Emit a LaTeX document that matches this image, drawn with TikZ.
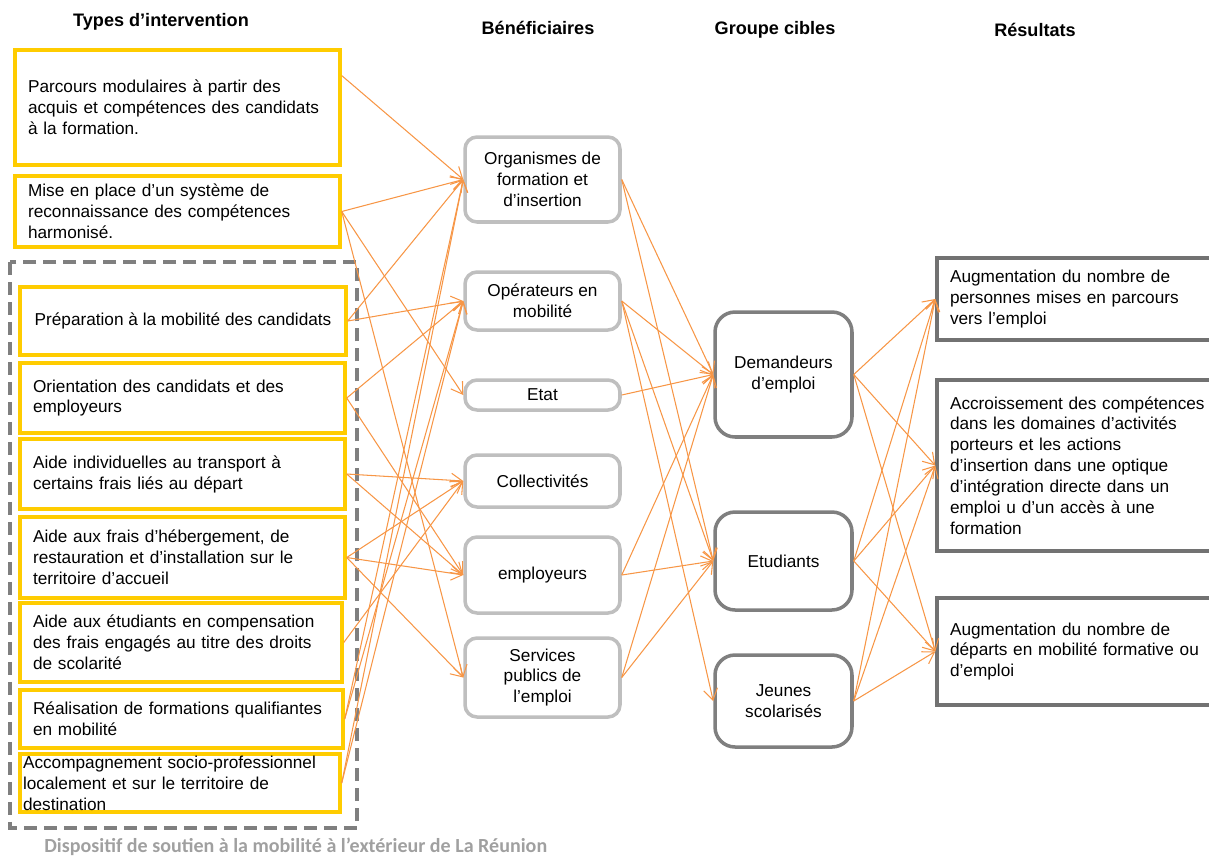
\documentclass[tikz,border=0pt]{standalone}
\usepackage{fontspec}
\setmainfont{Liberation Sans}
\newfontfamily\footfont{Carlito}
\usetikzlibrary{arrows.meta}

\definecolor{jaune}{RGB}{255,204,0}
\definecolor{grisclair}{RGB}{191,191,191}
\definecolor{grisfonce}{RGB}{127,127,127}
\definecolor{orangefl}{RGB}{247,150,70}
\definecolor{grispied}{RGB}{160,160,160}

\begin{document}
\begin{tikzpicture}[x=0.02cm, y=-0.02cm,
	boxfont/.style={font=\fontsize{9.8}{11.9}\selectfont},
	intervbox/.style={rectangle, draw=jaune, line width=2pt, boxfont, align=left, inner xsep=0.26cm, inner ysep=0pt},
	benefbox/.style={rectangle, rounded corners=0.24cm, draw=grisclair, line width=2pt, boxfont, align=center, minimum width=3.1cm, inner ysep=0pt},
	ciblebox/.style={rectangle, rounded corners=0.4cm, draw=grisfonce, line width=2pt, boxfont, align=center, minimum width=2.74cm, inner ysep=0pt},
	resbox/.style={rectangle, draw=grisfonce!90!black, line width=2pt, boxfont, align=left, text width=5.3cm, inner xsep=0.26cm, inner ysep=0pt},
	header/.style={font=\fontsize{10.3}{12}\selectfont\bfseries},
	fleche/.style={-{Straight Barb[length=2.2mm, width=2.8mm]}, draw=orangefl, line width=0.6pt}]

		\useasboundingbox (0,0) rectangle (1209,860);

		%Headers
		\node[header] (hInterv) at (161,22) {Types d’intervention};
		\node[header] (hBenef) at (538,28) {Bénéficiaires};
		\node[header] (hCible) at (775,30) {Groupe cibles};
		\node[header] (hRes) at (1035,30) {Résultats};

		%Types d'intervention
		\node[intervbox, text width=5.98cm, minimum height=2.3cm] (L1) at (177.5,107.5) {Parcours modulaires à partir des\\acquis et compétences des candidats\\à la formation.};
		\node[intervbox, text width=5.98cm, minimum height=1.42cm] (L2) at (177.5,211.5) {Mise en place d’un système de\\reconnaissance des compétences\\harmonisé.};
		\draw[draw=grisfonce, line width=2pt, dash pattern=on 0.26cm off 0.14cm] (10,262) rectangle (357,828);
		\node[intervbox, minimum width=6.52cm, minimum height=1.36cm] (L3) at (183,321) {Préparation à la mobilité des candidats};
		\node[intervbox, text width=5.98cm, minimum height=1.4cm] (L4) at (182.5,398) {Orientation des candidats et des\\employeurs};
		\node[intervbox, text width=5.98cm, minimum height=1.4cm] (L5) at (182.5,474) {Aide individuelles au transport à\\certains frais liés au départ};
		\node[intervbox, text width=5.98cm, minimum height=1.62cm] (L6) at (182.5,557.5) {Aide aux frais d’hébergement, de\\restauration et d’installation sur le\\territoire d’accueil};
		\node[intervbox, text width=5.92cm, minimum height=1.58cm] (L7) at (181,642.5) {Aide aux étudiants en compensation\\des frais engagés au titre des droits\\de scolarité};
		\node[intervbox, text width=5.94cm, minimum height=1.16cm] (L8) at (181.5,719) {Réalisation de formations qualifiantes\\en mobilité};
		\node[intervbox, text width=6.28cm, inner xsep=0.06cm, minimum height=1.16cm] (L9) at (180,783) {Accompagnement socio-professionnel\\localement et sur le territoire de\\destination};

		%Beneficiaires
		\node[benefbox, minimum height=1.7cm] (M1) at (542.5,179.5) {Organismes de\\formation et\\d’insertion};
		\node[benefbox, minimum height=1.16cm] (M2) at (542.5,301) {Opérateurs en\\mobilité};
		\node[benefbox, minimum height=0.6cm] (M3) at (542.5,395) {Etat};
		\node[benefbox, minimum height=1.04cm] (M4) at (542.5,481) {Collectivités};
		\node[benefbox, minimum height=1.52cm] (M5) at (542.5,575) {employeurs};
		\node[benefbox, minimum height=1.58cm] (M6) at (542.5,677.5) {Services\\publics de\\l’emploi};

		%Groupes cibles
		\node[ciblebox, minimum height=2.5cm] (G1) at (783.5,374.5) {Demandeurs\\d’emploi};
		\node[ciblebox, minimum height=1.96cm] (G2) at (783.5,561) {Etudiants};
		\node[ciblebox, minimum height=1.84cm] (G3) at (783.5,701) {Jeunes\\scolarisés};

		%Resultats
		\node[resbox, minimum height=1.64cm] (R1) at (1082.5,299) {Augmentation du nombre de\\personnes mises en parcours\\vers l’emploi};
		\node[resbox, minimum height=3.42cm] (R2) at (1082.5,465.5) {Accroissement des compétences\\dans les domaines d’activités\\porteurs et les actions\\d’insertion dans une optique\\d’intégration directe dans un\\emploi u d’un accès à une\\formation};
		\node[resbox, minimum height=2.14cm] (R3) at (1082.5,651.5) {Augmentation du nombre de\\départs en mobilité formative ou\\d’emploi};

		%Footer
		\node[anchor=base west, inner sep=0pt, text=grispied, font=\footfont\fontsize{11.4}{13}\selectfont\bfseries] (pied) at (44,852) {Dispositif de soutien à la mobilité à l’extérieur de La Réunion};

		%Interventions -> beneficiaires
		\draw[fleche] (L1.11) -- (M1.west);
		\draw[fleche] (L2.east) -- (M1.west);
		\draw[fleche] (L2.east) -- (M3.west);
		\draw[fleche] (L2.east) -- (M6.west);
		\draw[fleche] (L3.east) -- (M1.west);
		\draw[fleche] (L3.east) -- (M2.west);
		\draw[fleche] (L4.east) -- (M2.west);
		\draw[fleche] (L4.east) -- (M5.west);
		\draw[fleche] (L5.east) -- (M4.west);
		\draw[fleche] (L5.east) -- (M5.west);
		\draw[fleche] (L6.east) -- (M4.west);
		\draw[fleche] (L6.east) -- (M5.west);
		\draw[fleche] (L6.east) -- (M6.west);
		\draw[fleche] (L7.east) -- (M4.west);
		\draw[fleche] (L8.east) -- (M1.west);
		\draw[fleche] (L8.east) -- (M2.west);
		\draw[fleche] (L9.east) -- (M1.west);
		\draw[fleche] (L9.east) -- (M2.west);

		%Beneficiaires -> groupes cibles
		\draw[fleche] (M1.east) -- (G1.west);
		\draw[fleche] (M1.east) -- (G2.west);
		\draw[fleche] (M2.east) -- (G1.west);
		\draw[fleche] (M2.east) -- (G2.west);
		\draw[fleche] (M2.east) -- (G3.west);
		\draw[fleche] (M3.east) -- (G1.west);
		\draw[fleche] (M5.east) -- (G1.west);
		\draw[fleche] (M5.east) -- (G2.west);
		\draw[fleche] (M6.east) -- (G1.west);
		\draw[fleche] (M6.east) -- (G2.west);

		%Groupes cibles -> resultats
		\foreach \g in {G1,G2,G3}
			\foreach \r in {R1,R2,R3}
				\draw[fleche] (\g.east) -- (\r.west);
	\end{tikzpicture}
\end{document}
